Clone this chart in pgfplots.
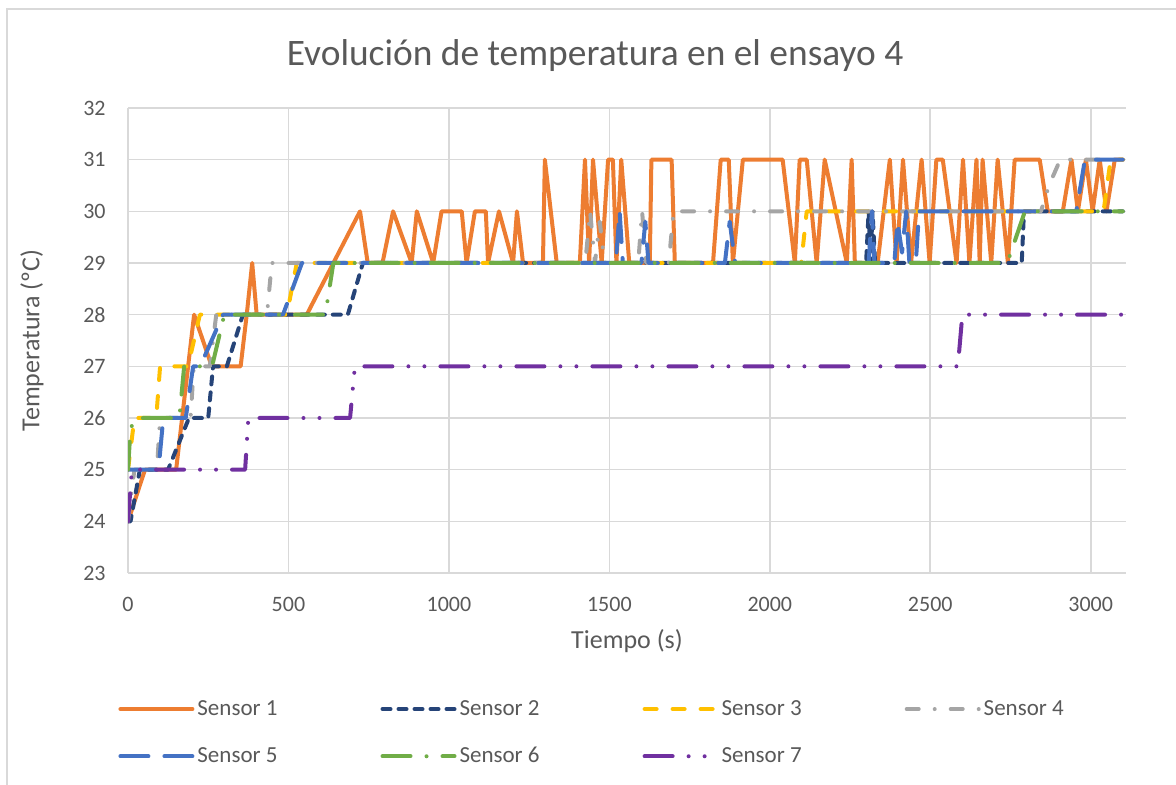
\documentclass[border=0pt]{standalone}
\usepackage{pgfplots}
\pgfplotsset{compat=1.18}
\usepackage{fontspec}
\setmainfont{Carlito}
\definecolor{txt}{HTML}{595959}
\definecolor{grd}{HTML}{D9D9D9}
\definecolor{s1}{HTML}{ED7D31}
\definecolor{s2}{HTML}{264478}
\definecolor{s3}{HTML}{FFC000}
\definecolor{s4}{HTML}{A5A5A5}
\definecolor{s5}{HTML}{4472C4}
\definecolor{s6}{HTML}{70AD47}
\definecolor{s7}{HTML}{7030A0}
\begin{document}
\begin{tikzpicture}
\draw[grd, line width=0.7pt] (3.5pt,-5pt) -- (3.5pt,388pt) -- (600pt,388pt);
\begin{axis}[
  scale only axis, width=499pt, height=232.5pt,
  at={(64pt,106pt)}, anchor=south west,
  xmin=0, xmax=3110, ymin=23, ymax=32,
  xtick={0,500,...,3000}, ytick={23,...,32},
  grid=major, major grid style={grd, line width=0.8pt},
  axis line style={draw=none}, tick style={draw=none},
  /pgf/number format/1000 sep={},
  /pgf/number format/assume math mode=true,
  ticklabel style={font=\fontsize{11}{13}\selectfont, text=txt},
  yticklabel style={anchor=east, inner sep=0pt, xshift=-11pt},
  xticklabel style={anchor=north, inner sep=0pt, yshift=-12pt},
  xlabel={Tiempo (s)}, ylabel={Temperatura (ºC)},
  label style={font=\fontsize{13}{15}\selectfont, text=txt},
  xlabel style={at={(axis description cs:0.5,-0.147)}, anchor=center},
  ylabel style={at={(axis description cs:-0.0962,0.5)}, anchor=center, rotate=0},
  title={Evolución de temperatura en el ensayo 4},
  title style={at={(axis description cs:0.468,1.086)}, anchor=center, font=\fontsize{18.7}{21}\selectfont, text=txt},
  legend columns=4,
  legend cell align=left,
  legend style={draw=none, fill=none, inner sep=0pt, at={(axis description cs:-0.0100,-0.266)}, anchor=north west,
    font=\fontsize{11.5}{13}\selectfont, text=txt,
    nodes={inner sep=1.5pt},
    /tikz/every even column/.append style={column sep=50pt},
    row sep=11.5pt},
  legend image code/.code={\draw[#1] (0pt,0pt) -- (36pt,0pt);},
  every axis plot/.append style={line width=2pt, line cap=round, line join=round},
]
\addplot[s1] coordinates {
(0,24) (53,25) (150,25) (206,28) (261,27) (351,27) (370,28) (387,29) (401,28) (557,28)
(640,29) (723,30) (747,29) (793,29) (826,30) (884,29) (900,30) (951,29) (977,30) (1040,30)
(1055,29) (1081,30) (1115,30) (1122,29) (1156,30) (1200,29) (1212,30) (1231,29) (1293,29) (1299,31)
(1336,29) (1408,29) (1424,31) (1437,29) (1449,31) (1476,29) (1496,31) (1511,31) (1522,29) (1537,31)
(1562,29) (1626,29) (1631,31) (1694,31) (1704,29) (1823,29) (1847,31) (1872,31) (1885,29) (1916,31)
(2040,31) (2078,29) (2093,31) (2115,31) (2146,29) (2171,31) (2240,29) (2255,31) (2265,29) (2336,29)
(2374,31) (2395,29) (2415,31) (2440,29) (2473,31) (2498,29) (2519,31) (2539,31) (2582,29) (2602,31)
(2622,29) (2644,31) (2654,29) (2663,31) (2690,29) (2710,31) (2742,29) (2763,31) (2841,31) (2866,30)
(2913,30) (2940,31) (2960,30) (2985,31) (3006,30) (3028,31) (3049,30) (3075,31) (3100,31)};
\addlegendentry{Sensor 1}
\addplot[s2, dash pattern=on 4pt off 4pt] coordinates {
(0,24) (8,24) (37,25) (125,25) (190,26) (250,26) (265,27) (308,27) (358,28) (685,28) (732,29)
(2300,29) (2308,30) (2314,29) (2320,30) (2328,29) (2785,29) (2792,30) (3100,30)};
\addlegendentry{Sensor 2}
\addplot[s3, dash pattern=on 6pt off 8pt] coordinates {
(0,25) (20,26) (88,26) (100,27) (187,27) (224,28) (495,28) (526,29) (2098,29) (2115,30) (3040,30) (3062,31) (3100,31)};
\addlegendentry{Sensor 3}
\addplot[s4, dash pattern=on 6pt off 8pt on 0pt off 8pt] coordinates {
(0,24) (20,25) (90,25) (100,26) (195,26) (205,27) (255,27) (275,28) (433,28) (448,29)
(1425,29) (1440,30) (1455,29) (1470,29.8) (1485,29) (1590,29) (1602,30) (1615,29) (1685,29) (1700,30)
(2845,30) (2870,30.5) (2905,31) (3100,31)};
\addlegendentry{Sensor 4}
\addplot[s5, dash pattern=on 14pt off 8pt] coordinates {
(0,25) (95,25) (110,26) (180,26) (203,27) (225,27) (296,28) (483,28) (542,29)
(1520,29) (1532,30) (1542,29) (1600,29) (1612,29.8) (1622,29) (1860,29) (1875,29.8) (1892,29)
(2308,29) (2318,30) (2326,29) (2388,29) (2398,29.8) (2412,29.2) (2425,30) (2435,29) (2455,29) (2465,30)
(2955,30) (2982,31) (3100,31)};
\addlegendentry{Sensor 5}
\addplot[s6, dash pattern=on 14pt off 8pt on 0pt off 8pt] coordinates {
(0,25) (8,25.8) (25,26) (160,26) (175,27) (224,27) (262,27) (300,28) (615,28) (640,29) (2740,29) (2795,30) (3100,30)};
\addlegendentry{Sensor 6}
\addplot[s7, dash pattern=on 14pt off 8pt on 0pt off 8pt on 0pt off 8pt] coordinates {
(0,24) (12,25) (365,25) (375,26) (692,26) (707,27) (2586,27) (2600,28) (3100,28)};
\addlegendentry{Sensor 7}
\end{axis}
\pgfresetboundingbox
\path (0,0) rectangle (588pt,392.5pt);
\end{tikzpicture}
\end{document}
